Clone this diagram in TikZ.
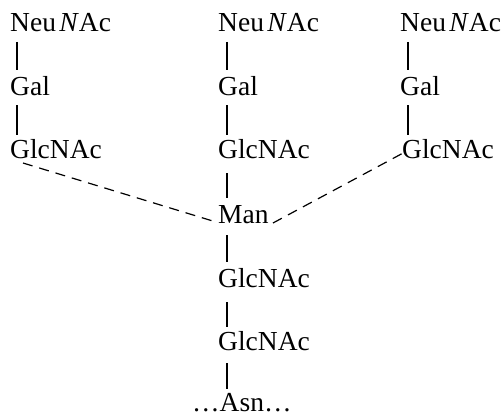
\documentclass[tikz,border=0pt]{standalone}
\usepackage{fontspec}
\setmainfont{Liberation Serif}
\usetikzlibrary{calc}
\begin{document}
\begin{tikzpicture}[x=1pt,y=1pt,
  sugar/.style={anchor=base west,inner sep=0pt,font=\fontsize{27.5}{30}\selectfont},
  bond/.style={line width=1.1pt},
  arm/.style={line width=1.2pt,dash pattern=on 10pt off 7pt}]
\useasboundingbox (0,0) rectangle (503,-417);
% column 1
\node[sugar] (n1) at (10,-32) {Neu\hspace{0.12em}\textit{N}Ac};
\node[sugar] (g1) at (10,-95.5) {Gal};
\node[sugar] (c1) at (10,-158) {GlcNAc};
% column 2
\node[sugar] (n2) at (218,-32) {Neu\hspace{0.12em}\textit{N}Ac};
\node[sugar] (g2) at (218,-95.5) {Gal};
\node[sugar] (c2) at (218,-158) {GlcNAc};
\node[sugar] (man) at (218,-223) {Man};
\node[sugar] (c5) at (218,-287) {GlcNAc};
\node[sugar] (c6) at (218,-350) {GlcNAc};
\node[sugar] (asn) at (192,-411.5) {…Asn…};
% column 3
\node[sugar] (n3) at (400,-32) {Neu\hspace{0.12em}\textit{N}Ac};
\node[sugar] (g3) at (400,-95.5) {Gal};
\node[sugar] (c3) at (402,-158) {GlcNAc};
% bonds
\draw[bond] ($(n1.base west)+(7,-10)$) -- ($(g1.base west)+(7,25)$);
\draw[bond] ($(g1.base west)+(7,-10)$) -- ($(c1.base west)+(7,23)$);
\draw[bond] ($(n2.base west)+(9,-10)$) -- ($(g2.base west)+(9,25)$);
\draw[bond] ($(g2.base west)+(9,-10)$) -- ($(c2.base west)+(9,23)$);
\draw[bond] ($(c2.base west)+(9,-15)$) -- ($(man.base west)+(9,25)$);
\draw[bond] ($(man.base west)+(9,-12)$) -- ($(c5.base west)+(9,25)$);
\draw[bond] ($(c5.base west)+(9,-15)$) -- ($(c6.base west)+(9,23)$);
\draw[bond] ($(c6.base west)+(9,-13)$) -- ($(asn.base west)+(35,23)$);
\draw[bond] ($(n3.base west)+(8,-10)$) -- ($(g3.base west)+(8,25)$);
\draw[bond] ($(g3.base west)+(8,-10)$) -- ($(c3.base west)+(6,23)$);
% dashed arms
\draw[arm] ($(c1.base west)+(13,-5)$) -- ($(man.base west)+(-2,1)$);
\draw[arm] ($(man.base west)+(55,0)$) -- ($(c3.base west)+(3,6)$);
\end{tikzpicture}
\end{document}
